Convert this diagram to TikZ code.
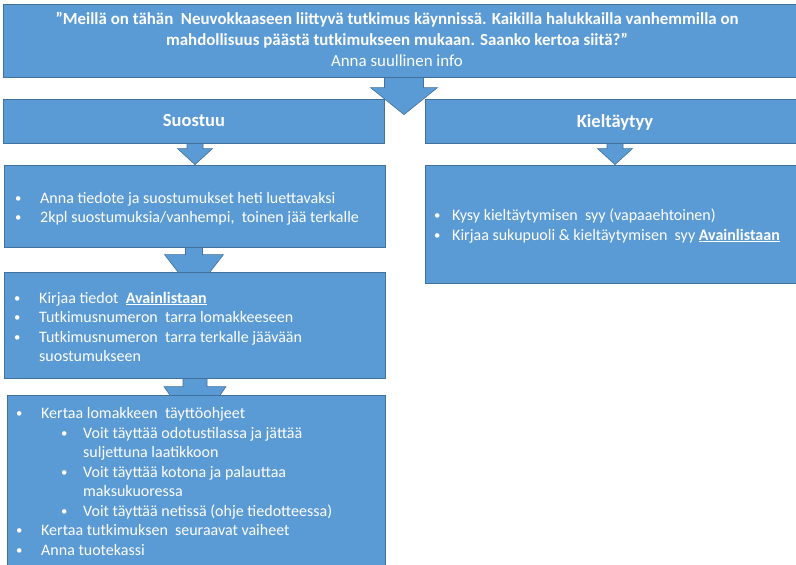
\documentclass[tikz,border=0pt]{standalone}
\usepackage{fontspec}
\setmainfont{Carlito}
\usetikzlibrary{calc,fit,backgrounds,shadows}
\definecolor{boxblue}{HTML}{5B9BD5}
\definecolor{boxedge}{HTML}{41719C}
\newcommand\bdot{\raisebox{0.6pt}{\scalebox{0.8}{\textbullet}}}
\newcommand\bitem[1]{\makebox[26pt][l]{\hspace*{1pt}\bdot}#1}
\newcommand\bcont[1]{\hspace*{26pt}#1}
\newcommand\bsub[1]{\hspace*{46pt}\makebox[22pt][l]{\bdot}#1}
\newcommand\bsubcont[1]{\hspace*{68pt}#1}
\newcommand\avain{\underline{\textbf{Avainlistaan}}}
% block arrow: src, dst, x centre, head start above dst top, tip below dst top, stem half, head half
\newcommand\blockarrow[7]{%
  \path[arrowstyle] let \p1=(#1.south), \p2=(#2.north) in
   ({#3pt-#6pt},\y1+2pt) -- ({#3pt+#6pt},\y1+2pt) -- ({#3pt+#6pt},\y2+#4pt)
   -- ({#3pt+#7pt},\y2+#4pt) -- (#3pt,\y2-#5pt) -- ({#3pt-#7pt},\y2+#4pt)
   -- ({#3pt-#6pt},\y2+#4pt) -- cycle;}
\tikzset{
  box/.style={draw=boxedge, line width=0.8pt, fill=boxblue, inner sep=0pt,
    drop shadow={shadow xshift=1.2pt, shadow yshift=-1.2pt, opacity=0.25, fill=black}},
  arrowstyle/.style={draw=boxedge, line width=0.6pt, fill=boxblue},
  wtext/.style={text=white, inner sep=0pt},
  listtext/.style={wtext, align=left, font=\fontsize{16}{19.5}\selectfont, anchor=base west},
}
\begin{document}
\begin{tikzpicture}[x=1pt,y=1pt]
\useasboundingbox (0,0) rectangle (796,-565);
\clip (0,0) rectangle (796,-565);
% boxes
\node[box, fit={(3,-4) (796,-77)}] (top) {};
\node[box, fit={(3,-99) (384,-143)}] (s) {};
\node[box, fit={(425,-99) (796,-143)}] (k) {};
\node[box, fit={(4,-165) (385,-247)}] (s2) {};
\node[box, fit={(425,-165) (796,-283)}] (k2) {};
\node[box, fit={(4,-272) (385,-378)}] (s3) {};
\node[box, fit={(7,-395) (385,-580)}] (s4) {};
% arrows behind
\begin{pgfonlayer}{background}
\blockarrow{top}{s}{404}{11}{16}{19.5}{33.5}
\blockarrow{s}{s2}{195}{16}{0}{8}{17.5}
\blockarrow{k}{k2}{615}{16}{0}{8}{17.5}
\blockarrow{s2}{s3}{194}{17}{21}{8.5}{29.5}
\blockarrow{s3}{s4}{195}{8}{37}{12}{31}
\end{pgfonlayer}
% texts (base anchor = baseline of last line)
\node[wtext, align=center, font=\fontsize{16.9}{21}\selectfont, anchor=base] (toptext) at (397,-66)
  {\textbf{”Meillä on tähän\ \ Neuvokkaaseen liittyvä tutkimus käynnissä. Kaikilla halukkailla vanhemmilla on}\\
   \textbf{mahdollisuus päästä tutkimukseen mukaan. Saanko kertoa siitä?”}\\
   Anna suullinen info};
\node[wtext, font=\fontsize{18.5}{22}\selectfont\bfseries, anchor=base] (stitle) at (194,-126.5) {Suostuu};
\node[wtext, font=\fontsize{18.5}{22}\selectfont\bfseries, anchor=base] (ktitle) at (615,-127.5) {Kieltäytyy};
\node[listtext] (s2text) at (14,-222.5)
  {\bitem{Anna tiedote ja suostumukset heti luettavaksi}\\
   \bitem{2kpl suostumuksia/vanhempi,\ \ toinen jää terkalle}};
\node[listtext] (s3text) at (13,-361.5)
  {\bitem{Kirjaa tiedot\ \ \avain}\\
   \bitem{Tutkimusnumeron\ \ tarra lomakkeeseen}\\
   \bitem{Tutkimusnumeron\ \ tarra terkalle jäävään}\\
   \bcont{suostumukseen}};
\node[listtext] (s4text) at (15,-555)
  {\bitem{Kertaa lomakkeen\ \ täyttöohjeet}\\
   \bsub{Voit täyttää odotustilassa ja jättää}\\
   \bsubcont{suljettuna laatikkoon}\\
   \bsub{Voit täyttää kotona ja palauttaa}\\
   \bsubcont{maksukuoressa}\\
   \bsub{Voit täyttää netissä (ohje tiedotteessa)}\\
   \bitem{Kertaa tutkimuksen\ \ seuraavat vaiheet}\\
   \bitem{Anna tuotekassi}};
\node[listtext] (k2text) at (434,-240)
  {\makebox[18pt][l]{\bdot}Kysy kieltäytymisen\ \ syy (vapaaehtoinen)\\
   \makebox[18pt][l]{\bdot}Kirjaa sukupuoli \& kieltäytymisen\ \ syy \avain};
\end{tikzpicture}
\end{document}
